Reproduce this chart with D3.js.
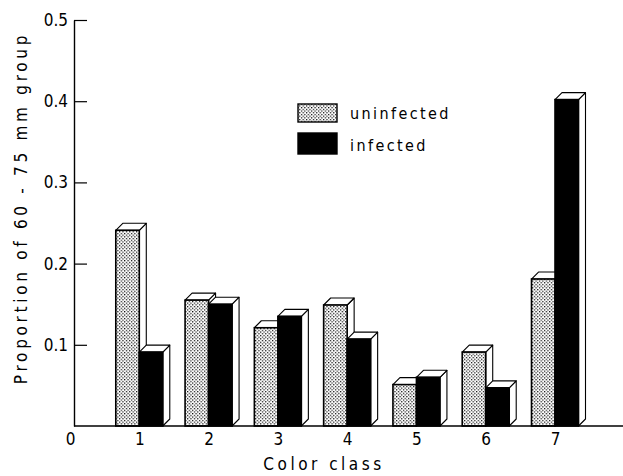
<!DOCTYPE html>
<html>
<head>
<meta charset="utf-8">
<script src="https://cdn.jsdelivr.net/npm/d3@7"></script>
<style>
  body { margin: 0; background: #fff; }
  svg text { font-family: "DejaVu Sans Condensed", "DejaVu Sans", sans-serif; fill: #000; }
</style>
</head>
<body>
<div id="chart"></div>
<script>
// values
const classes = [1, 2, 3, 4, 5, 6, 7];
const uninfected = [0.241, 0.155, 0.121, 0.149, 0.051, 0.091, 0.181];
const infected = [0.091, 0.150, 0.135, 0.107, 0.060, 0.047, 0.402];
const yTicks = [0.1, 0.2, 0.3, 0.4, 0.5];
const xTicks = [0, 1, 2, 3, 4, 5, 6, 7];
const seriesNames = ["uninfected", "infected"];

const width = 623,
    height = 476,
    axisX = 74,
    barW = 23.5,
    depthX = 7,
    depthY = 7;

const svg = d3.select("#chart")
    .append("svg")
    .attr("width", width)
    .attr("height", height)
    .attr("viewBox", [0, 0, width, height]);

// stipple pattern for the uninfected bars
const pat = svg.append("defs").append("pattern")
    .attr("id", "dots")
    .attr("patternUnits", "userSpaceOnUse")
    .attr("width", 3.4)
    .attr("height", 3.4);
pat.append("rect").attr("width", 3.4).attr("height", 3.4).attr("fill", "#fff");
pat.append("rect").attr("x", 0).attr("y", 0).attr("width", 1.2).attr("height", 1.2).attr("fill", "#000");
pat.append("rect").attr("x", 1.7).attr("y", 1.7).attr("width", 1.2).attr("height", 1.2).attr("fill", "#000");

let x = d3.scaleLinear()
    .domain([0, 7])
    .range([70, 555]);

let y = d3.scaleLinear()
    .domain([0, 0.5])
    .range([426, 20]);

// one box per bar: front face, top cap, side face
const bars = [];
classes.forEach((c, i) => {
  bars.push({ c, v: uninfected[i], x0: x(c) - barW, fill: "url(#dots)" });
  bars.push({ c, v: infected[i], x0: x(c), fill: "#000" });
});

const g = svg.append("g").attr("class", "bars");

for (let b of bars) {
  const xl = b.x0, xr = b.x0 + barW, top = y(b.v), base = y(0);
  const bar = g.append("g");
  bar.append("path")
      .attr("d", `M${xr},${base}L${xr + depthX},${base - depthY}L${xr + depthX},${top - depthY}L${xr},${top}Z`)
      .attr("fill", "#fff")
      .attr("stroke", "#000")
      .attr("stroke-width", 1.1)
      .attr("stroke-linejoin", "round");
  bar.append("path")
      .attr("d", `M${xl},${top}L${xl + depthX},${top - depthY}L${xr + depthX},${top - depthY}L${xr},${top}Z`)
      .attr("fill", "#fff")
      .attr("stroke", "#000")
      .attr("stroke-width", 1.1)
      .attr("stroke-linejoin", "round");
  bar.append("rect")
      .attr("x", xl)
      .attr("y", top)
      .attr("width", barW)
      .attr("height", base - top)
      .attr("fill", b.fill)
      .attr("stroke", "#000")
      .attr("stroke-width", 1.6);
}

// baseline runs to the right edge
svg.append("line")
    .attr("x1", axisX)
    .attr("x2", width)
    .attr("y1", y(0))
    .attr("y2", y(0))
    .attr("stroke", "#000")
    .attr("stroke-width", 1.6);

svg.append("g")
    .attr("transform", `translate(${axisX},0)`)
    .attr("class", "y-axis")
    .call(d3.axisLeft(y).tickValues(yTicks).tickFormat(d3.format(".1f"))
        .tickSizeInner(-13).tickSizeOuter(0).tickPadding(6))
    .call(g => g.select(".domain").attr("stroke-width", 1.4))
    .call(g => g.selectAll(".tick line").attr("stroke-width", 1.2))
    .call(g => g.selectAll("text").style("font-size", "17px").style("font-family", null));

svg.append("g")
    .attr("transform", `translate(0,${y(0)})`)
    .attr("class", "x-axis")
    .call(d3.axisBottom(x).tickValues(xTicks).tickFormat(d3.format("d")).tickSize(0).tickPadding(7))
    .call(g => g.select(".domain").remove())
    .call(g => g.selectAll("text").style("font-size", "17px").style("font-family", null));

svg.append("text")
    .attr("class", "x-label")
    .attr("text-anchor", "middle")
    .attr("x", 324)
    .attr("y", 470)
    .style("font-size", "17px")
    .style("letter-spacing", "3.5px")
    .text("Color class");

svg.append("text")
    .attr("class", "y-label")
    .attr("text-anchor", "middle")
    .attr("transform", "translate(27,208) rotate(-90)")
    .style("font-size", "17px")
    .style("letter-spacing", "3.7px")
    .text("Proportion of 60 - 75 mm group");

// legend
const legend = svg.append("g").attr("class", "legend");
const legendFill = ["url(#dots)", "#000"];
const legendY = [104, 133];
const legendH = [18, 21];
seriesNames.forEach((name, i) => {
  legend.append("rect")
      .attr("x", 298)
      .attr("y", legendY[i])
      .attr("width", 39)
      .attr("height", legendH[i])
      .attr("fill", legendFill[i])
      .attr("stroke", "#000")
      .attr("stroke-width", 1.4);
  legend.append("text")
      .attr("x", 350)
      .attr("y", legendY[i] + legendH[i] - 3)
      .style("font-size", "16px")
      .style("letter-spacing", "2.4px")
      .text(name);
});
</script>
</body>
</html>
